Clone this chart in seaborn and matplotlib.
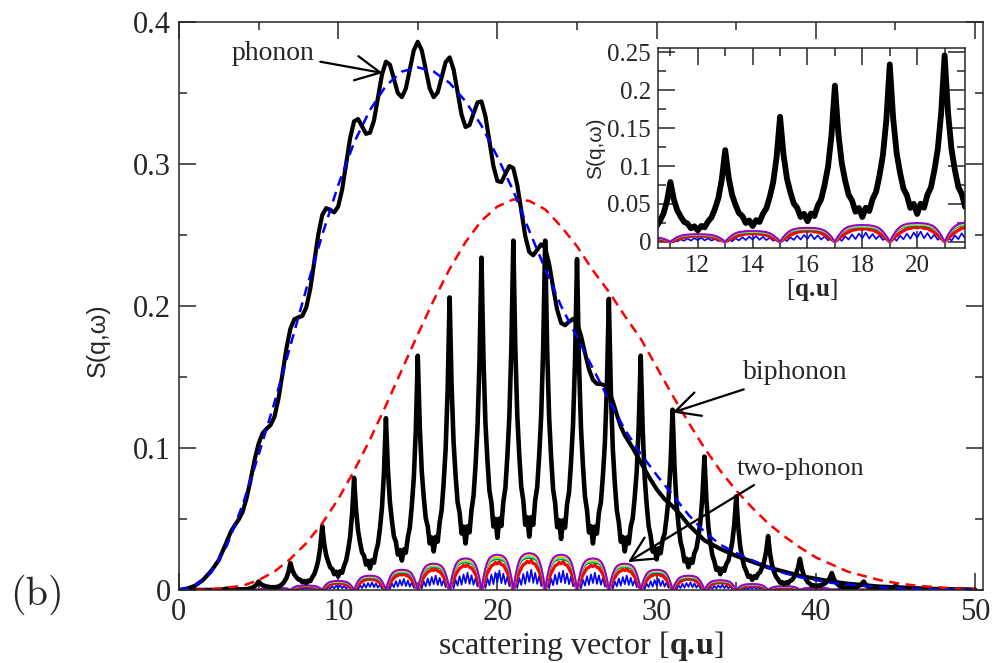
import numpy as np
import matplotlib
matplotlib.use("Agg")
import matplotlib.pyplot as plt
from matplotlib.ticker import MultipleLocator, FixedLocator, FixedFormatter
import seaborn as sns

# ---------------- DATA ----------------
# one-phonon S(q,w) (solid black)
phonon_q = ([0, 0.5, 1, 1.5, 2, 2.5] + list(np.arange(3, 28.01, 0.25)) +
            [28.5, 29, 29.5, 30, 30.5, 31, 31.5, 32, 33, 34, 35, 36, 37, 38, 39, 40, 41,
             42, 43, 44, 45, 46, 47, 48, 49, 50])
phonon_s = [0, 0.001, 0.003, 0.007, 0.013, 0.021,
            0.034, 0.0408, 0.0455, 0.0496, 0.055, 0.0647, 0.0775, 0.0915,
            0.103, 0.1103, 0.1135, 0.1161, 0.122, 0.1346, 0.152, 0.1701,
            0.184, 0.1907, 0.192, 0.193, 0.199, 0.2121, 0.231, 0.2502,
            0.264, 0.2689, 0.2675, 0.2659, 0.27, 0.2819, 0.30, 0.3181,
            0.33, 0.3316, 0.3265, 0.3212, 0.322, 0.3306, 0.3465, 0.3628,
            0.372, 0.3699, 0.36, 0.3498, 0.347, 0.3531, 0.3665, 0.38,
            0.386, 0.38, 0.3665, 0.3531, 0.347, 0.3503, 0.361, 0.3717,
            0.375, 0.3665, 0.3505, 0.3346, 0.326, 0.3274, 0.3355, 0.3433,
            0.344, 0.3335, 0.316, 0.2985, 0.288, 0.2872, 0.293, 0.2985,
            0.297, 0.2851, 0.267, 0.2492, 0.238, 0.2357, 0.2395, 0.2434,
            0.241, 0.2296, 0.213, 0.1975, 0.188, 0.1864, 0.189, 0.1909,
            0.188, 0.1792, 0.167, 0.1555, 0.148, 0.1452, 0.145, 0.1441,
            0.14, 0.1327, 0.1235, 0.1151, 0.109,
            0.1, 0.09, 0.08, 0.071, 0.064, 0.059, 0.053, 0.046, 0.035, 0.029, 0.024, 0.02,
            0.016, 0.013, 0.01, 0.008, 0.006, 0.0045, 0.0035, 0.0025, 0.002, 0.0015, 0.001,
            0.0007, 0.0004, 0.0002]

# smooth envelope of the one-phonon curve (blue dashed)
env_q = [0, 1, 2, 3, 4, 5, 6, 7, 8, 9, 10, 11, 12, 13, 14, 15, 16, 17, 18, 19, 20, 21, 22,
         23, 24, 25, 26, 27, 28, 29, 30, 31, 32, 33, 34, 35, 36, 37, 38, 39, 40, 41, 42, 43,
         44, 46, 48, 50]
env_s = [0, 0.003, 0.012, 0.031, 0.06, 0.095, 0.132, 0.172, 0.212, 0.25, 0.285, 0.315,
         0.338, 0.355, 0.365, 0.368, 0.365, 0.357, 0.344, 0.327, 0.305, 0.281, 0.253, 0.226,
         0.2, 0.178, 0.156, 0.134, 0.113, 0.096, 0.081, 0.067, 0.053, 0.041, 0.032, 0.026,
         0.021, 0.016, 0.012, 0.009, 0.007, 0.005, 0.004, 0.003, 0.002, 0.001, 0.0005, 0.0002]

# gaussian envelope of the biphonon peaks (red dashed)
gauss_q = [0, 2, 4, 5, 6, 7, 8, 9, 10, 11, 12, 13, 14, 15, 16, 17, 18, 19, 20, 21, 22, 23,
           24, 25, 26, 27, 28, 29, 30, 31, 32, 33, 34, 35, 36, 37, 38, 39, 40, 41, 42, 43,
           44, 45, 46, 47, 48, 49, 50]
gauss_s = [0, 0.0005, 0.003, 0.007, 0.013, 0.022, 0.033, 0.047, 0.064, 0.084, 0.106, 0.13,
           0.155, 0.18, 0.204, 0.226, 0.245, 0.26, 0.27, 0.275, 0.274, 0.268, 0.256, 0.242,
           0.225, 0.21, 0.193, 0.177, 0.157, 0.137, 0.118, 0.1, 0.084, 0.07, 0.058, 0.047,
           0.038, 0.03, 0.023, 0.018, 0.013, 0.01, 0.007, 0.005, 0.0035, 0.0025, 0.0017,
           0.001, 0.0007]

# biphonon curve: peak heights at odd q, valley levels at even q
bi_peak_q = list(range(1, 50, 2))
bi_peak = [0, 0.001, 0.006, 0.019, 0.045, 0.079, 0.121, 0.165, 0.206, 0.234, 0.246, 0.246,
           0.233, 0.205, 0.165, 0.127, 0.094, 0.066, 0.038, 0.022, 0.012, 0.006, 0.003,
           0.0012, 0.0005]
bi_valley = [0, 0, 0.0005, 0.002, 0.006, 0.012, 0.019, 0.026, 0.034, 0.041, 0.046, 0.047,
             0.045, 0.041, 0.034, 0.027, 0.02, 0.014, 0.009, 0.005, 0.003, 0.0015, 0.0007,
             0.0003, 0.0001, 0.0001]
# shape of one period (valley -> peak -> valley), every 0.125 in q
bi_shape = [0, 0.01, 0.03, 0.07, 0.14, 0.24, 0.38, 0.62, 1.0, 0.62, 0.38, 0.24, 0.14,
            0.07, 0.03, 0.01]
bi_teeth = [-0.2, 0.05, -0.15, 0.05, -0.05, 0, 0, 0, 0, 0, 0, 0, -0.05, 0.05, -0.15, 0.05]

# two-phonon arches: top height of each arch (centred on even q) ...
arch_center = list(range(2, 50, 2))
arch_height = [0.0002, 0.0006, 0.0016, 0.0032, 0.0064, 0.0101, 0.0143, 0.0186, 0.0223,
               0.0249, 0.026, 0.0249, 0.0223, 0.0186, 0.0143, 0.0101, 0.0069, 0.0042,
               0.0027, 0.0016, 0.0008, 0.0004, 0.0002, 0.0001]
# ... and the shape of one arch, every 0.125 from one odd q to the next
outer_shape = [0, 0.35, 0.62, 0.8, 0.9, 0.95, 0.98, 0.99, 1.0, 0.99, 0.98, 0.95, 0.9, 0.8,
               0.62, 0.35, 0]
red_shape = [0, 0.2, 0.42, 0.6, 0.74, 0.86, 0.9, 0.97, 0.93, 1.0, 0.9, 0.88, 0.76, 0.62,
             0.44, 0.22, 0]
blue_shape = [0, 0.45, 0.1, 0.6, 0.25, 0.8, 0.3, 0.9, 0.4, 1.0, 0.35, 0.85, 0.3, 0.7,
              0.2, 0.5, 0]
two_colors = ["blue", "red", "green", "cyan", "orange", "yellow", "darkviolet"]
two_levels = [0.55, 0.8, 0.88, 0.91, 0.94, 0.97, 1.0]
two_widths = [1.2, 2.4, 1.8, 1.5, 1.3, 1.3, 1.5]

x_ticks = [0, 10, 20, 30, 40, 50]
y_ticks = [0, 0.1, 0.2, 0.3, 0.4]
y_labels = ["0", "0.1", "0.2", "0.3", "0.4"]
in_x_ticks = [12, 14, 16, 18, 20]
in_y_ticks = [0, 0.05, 0.1, 0.15, 0.2, 0.25]
in_y_labels = ["0", "0.05", "0.1", "0.15", "0.2", "0.25"]

# ---------------- BUILD CURVES ----------------
off = np.arange(16) * 0.125 - 1
bi_q, bi_s = [], []
for i, (qc, p) in enumerate(zip(bi_peak_q, bi_peak)):
    v = np.where(off < 0, bi_valley[i], bi_valley[i + 1])
    bi_q.append(qc + off)
    bi_s.append(v + np.array(bi_shape) * (p - v) + np.array(bi_teeth) * v)
bi_q = np.concatenate(bi_q + [[50.0]])
bi_s = np.concatenate(bi_s + [[bi_valley[-1]]])

offs = np.linspace(-1, 1, 17)
two_q = np.concatenate([[0.0]] + [c + offs[:-1] for c in arch_center] + [[49.0, 50.0]])


def two_curve(shape, level):
    shape = np.array(shape)
    parts = [level * h * shape[:-1] for h in arch_height]
    return np.concatenate([[0.0]] + parts + [[0.0, 0.0]])


two_shapes = [blue_shape, red_shape] + [outer_shape] * 5

# ---------------- STYLE ----------------
sns.set_theme(style="ticks")
plt.rcParams["font.family"] = ["Liberation Serif", "DejaVu Serif"]
plt.rcParams["mathtext.fontset"] = "custom"
plt.rcParams["mathtext.rm"] = "Liberation Serif"
plt.rcParams["mathtext.bf"] = "Liberation Serif:bold"
plt.rcParams["axes.linewidth"] = 1.1

fig = plt.figure(figsize=(9.94, 6.63), dpi=100)
ax = fig.add_axes([0.180, 0.110, 0.809, 0.857])
ins = fig.add_axes([0.662, 0.626, 0.309, 0.302])


def draw_two_phonon(a):
    for col, lev, lw, shp in zip(two_colors, two_levels, two_widths, two_shapes):
        sns.lineplot(x=two_q, y=two_curve(shp, lev), ax=a, color=col, lw=lw,
                     estimator=None, sort=False)


# ---------------- MAIN PANEL ----------------
draw_two_phonon(ax)
sns.lineplot(x=bi_q, y=bi_s, ax=ax, color="black", lw=3.3, estimator=None, sort=False)
sns.lineplot(x=phonon_q, y=phonon_s, ax=ax, color="black", lw=3.0, estimator=None, sort=False)
sns.lineplot(x=gauss_q, y=gauss_s, ax=ax, color="red", lw=1.8, linestyle=(0, (4, 2.6)),
             estimator=None, sort=False)
sns.lineplot(x=env_q, y=env_s, ax=ax, color="blue", lw=1.8, linestyle=(0, (4, 2.6)),
             estimator=None, sort=False)

ax.set_xlim(0, 50.5)
ax.set_ylim(0, 0.4)
ax.xaxis.set_major_locator(FixedLocator(x_ticks))
ax.xaxis.set_minor_locator(MultipleLocator(5))
ax.yaxis.set_major_locator(FixedLocator(y_ticks))
ax.yaxis.set_major_formatter(FixedFormatter(y_labels))
ax.yaxis.set_minor_locator(MultipleLocator(0.05))
ax.tick_params(which="both", direction="in", top=True, right=True, labelsize=22, width=1.1)
ax.tick_params(which="major", length=12, pad=6)
ax.tick_params(which="minor", length=6)
ax.set_xlabel(r"scattering vector [$\mathbf{q.\!u}$]", fontsize=23, labelpad=1)
ax.set_ylabel("S(q,ω)", fontsize=18, family="Liberation Sans")
ax.yaxis.set_label_coords(-0.086, 0.44)

arrow = dict(arrowstyle="->,head_length=0.8,head_width=0.4", color="black", lw=1.6,
             shrinkA=2, shrinkB=0, mutation_scale=22)
ax.annotate("phonon", xy=(12.8, 0.364), xytext=(5.9, 0.378), fontsize=20,
            ha="center", va="center", arrowprops=arrow)
ax.annotate("biphonon", xy=(31.0, 0.125), xytext=(35.4, 0.153), fontsize=20,
            ha="left", va="center", arrowprops=arrow)
ax.annotate("two-phonon", xy=(28.2, 0.0197), xytext=(35.0, 0.085), fontsize=19,
            ha="left", va="center", arrowprops=dict(arrow, relpos=(0.2, 0.0)))

fig.text(0.01, 0.1025, "(b)", fontsize=29, family="cmr10", va="center", ha="left")

# ---------------- INSET ----------------
ins.set_facecolor("white")
draw_two_phonon(ins)
sns.lineplot(x=bi_q, y=bi_s, ax=ins, color="black", lw=4.2, estimator=None, sort=False)
ins.set_xlim(10.55, 21.75)
ins.set_ylim(-0.008, 0.256)
ins.xaxis.set_major_locator(FixedLocator(in_x_ticks))
ins.xaxis.set_minor_locator(MultipleLocator(1))
ins.yaxis.set_major_locator(FixedLocator(in_y_ticks))
ins.yaxis.set_major_formatter(FixedFormatter(in_y_labels))
ins.yaxis.set_minor_locator(MultipleLocator(0.025))
ins.tick_params(which="both", direction="in", top=True, right=True, labelsize=18, width=1.1)
ins.tick_params(which="major", length=12, pad=5)
ins.tick_params(which="minor", length=6)
ins.set_xlabel(r"[$\mathbf{q.\!u}$]", fontsize=18, labelpad=0)
ins.set_ylabel("S(q,ω)", fontsize=15, family="Liberation Sans", labelpad=2)

fig.savefig("out.png", dpi=100)
